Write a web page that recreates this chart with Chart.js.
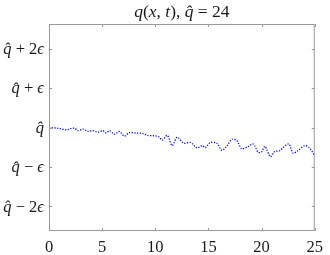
<!DOCTYPE html>
<html lang="en">
<head>
<meta charset="UTF-8">
<title>q(x,t)</title>
<style>
  html, body { margin: 0; padding: 0; background: #fff; }
  #wrap { width: 330px; height: 255px; }
</style>
</head>
<body>
<div id="wrap"><canvas id="myChart" width="330" height="255"></canvas></div>

<script src="https://cdn.jsdelivr.net/npm/chart.js"></script>
<script>
    // x positions and q values (in units of epsilon, relative to q-hat)
    const xs = [0, 0.87, 1.65, 2.12, 2.43, 2.73, 3.2, 3.67, 4.13, 4.6, 5.07, 5.38, 5.69, 6.16, 6.62,
        7.09, 7.56, 8.18, 8.8, 9.26, 9.89, 10.35, 10.66, 11.13, 11.59, 12.06, 12.69, 13.31, 13.93,
        14.4, 14.71, 15.18, 15.79, 16.26, 16.73, 17.19, 17.66, 18.13, 18.75, 19.22, 19.68, 19.99,
        20.31, 20.83, 21.24, 21.71, 22.01, 22.57, 22.95, 23.41, 24.04, 24.5, 25];
    const qs = [0, -0.02, -0.06, -0.02, -0.02, -0.08, -0.04, -0.10, -0.08, -0.12, -0.08, -0.14, -0.08, -0.17, -0.10,
        -0.22, -0.13, -0.14, -0.15, -0.20, -0.21, -0.24, -0.32, -0.20, -0.46, -0.25, -0.40, -0.38, -0.52,
        -0.46, -0.51, -0.38, -0.40, -0.58, -0.47, -0.30, -0.33, -0.54, -0.48, -0.42, -0.63, -0.62,
        -0.48, -0.74, -0.61, -0.59, -0.51, -0.42, -0.65, -0.59, -0.46, -0.52, -0.72];

    const xTicks = [0, 5, 10, 15, 20, 25];
    const yTicks = [-2, -1, 0, 1, 2];
    const yTickLabels = ['q\u0302 \u2212 2\u03F5', 'q\u0302 \u2212 \u03F5', 'q\u0302', 'q\u0302 + \u03F5', 'q\u0302 + 2\u03F5'];

    const serif = '"Liberation Serif", "DejaVu Serif", serif';
    const axisGray = '#9a9a9a';

    // italic for letters, upright for the rest (like LaTeX math)
    function runsFor(text) {
        const runs = [];
        for (const ch of text) {
            const it = /[a-zA-Z\u03F5\u0302]/.test(ch);
            if (runs.length && runs[runs.length - 1].it === it) runs[runs.length - 1].s += ch;
            else runs.push({ s: ch, it: it });
        }
        return runs;
    }

    function drawMath(ctx, text, x, y, size, align) {
        const runs = runsFor(text);
        let total = 0;
        runs.forEach(r => {
            ctx.font = (r.it ? 'italic ' : '') + size + 'px ' + serif;
            r.w = ctx.measureText(r.s).width;
            total += r.w;
        });
        let cx = align === 'right' ? x - total : align === 'center' ? x - total / 2 : x;
        ctx.textAlign = 'left';
        ctx.textBaseline = 'middle';
        runs.forEach(r => {
            ctx.font = (r.it ? 'italic ' : '') + size + 'px ' + serif;
            ctx.fillText(r.s, cx, y);
            cx += r.w;
        });
    }

    const framePlugin = {
        id: 'frame',
        afterDraw(chart) {
            const { ctx, chartArea: a, scales } = chart;
            ctx.save();
            ctx.strokeStyle = axisGray;
            ctx.lineWidth = 1;
            ctx.strokeRect(a.left + 0.5, a.top + 0.5, a.right - a.left - 1, a.bottom - a.top - 1);

            const tl = 3;
            ctx.beginPath();
            xTicks.forEach(v => {
                const px = Math.round(scales.x.getPixelForValue(v)) + 0.5;
                ctx.moveTo(px, a.bottom); ctx.lineTo(px, a.bottom - tl);
                ctx.moveTo(px, a.top); ctx.lineTo(px, a.top + tl);
            });
            yTicks.forEach(v => {
                const py = Math.round(scales.y.getPixelForValue(v)) + 0.5;
                ctx.moveTo(a.left, py); ctx.lineTo(a.left + tl, py);
                ctx.moveTo(a.right, py); ctx.lineTo(a.right - tl, py);
            });
            ctx.stroke();

            ctx.fillStyle = '#1a1a1a';
            yTicks.forEach((v, i) => {
                const py = scales.y.getPixelForValue(v);
                drawMath(ctx, yTickLabels[i], a.left - 5, py + 1, 16.5, 'right');
            });

            drawMath(ctx, 'q(x, t), q\u0302 = 24', (a.left + a.right) / 2, 12, 17.5, 'center');
            ctx.restore();
        }
    };

    const ctx = document.getElementById('myChart');

    new Chart(ctx, {
        type: 'line',
        data: {
            datasets: [{
                data: xs.map((x, i) => ({ x: x, y: qs[i] })),
                borderColor: '#0000ff',
                borderWidth: 1.3,
                borderDash: [1.2, 1.5],
                pointRadius: 0,
                tension: 0.3,
                fill: false
            }]
        },
        options: {
            responsive: false,
            animation: false,
            layout: { padding: { top: 24, right: 13, left: 0, bottom: 0 } },
            plugins: { legend: { display: false }, title: { display: false }, tooltip: { enabled: false } },
            scales: {
                x: {
                    type: 'linear',
                    min: 0, max: 25,
                    afterBuildTicks: s => { s.ticks = xTicks.map(v => ({ value: v })); },
                    afterFit: s => { s.height = 24; },
                    grid: { display: false, drawTicks: false },
                    border: { display: false },
                    ticks: { color: '#1a1a1a', font: { family: serif, size: 16.5 }, padding: 7, maxRotation: 0 }
                },
                y: {
                    min: -2.63, max: 2.63,
                    afterBuildTicks: s => { s.ticks = yTicks.map(v => ({ value: v })); },
                    afterFit: s => { s.width = 49; },
                    grid: { display: false, drawTicks: false },
                    border: { display: false },
                    ticks: { display: false }
                }
            }
        },
        plugins: [framePlugin]
    });
</script>
</body>
</html>
